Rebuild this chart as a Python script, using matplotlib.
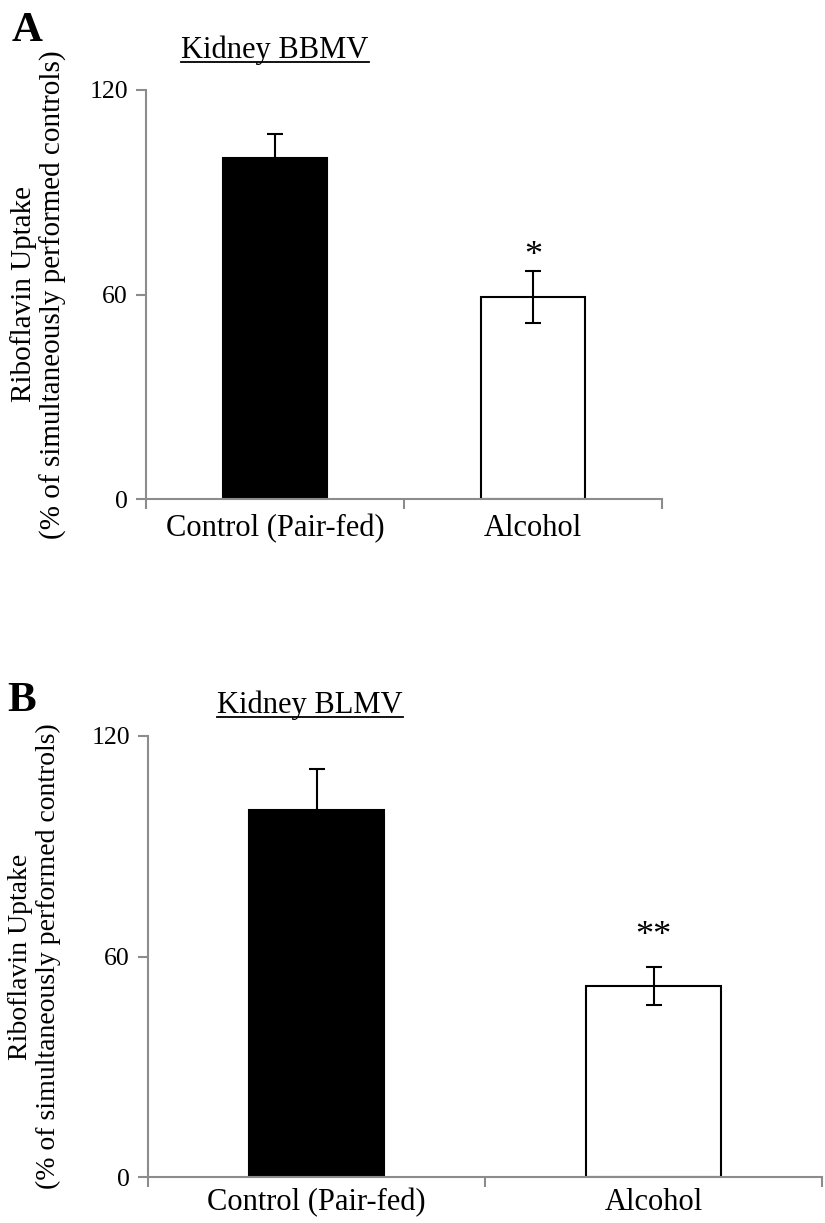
import matplotlib
matplotlib.use("Agg")
import matplotlib.pyplot as plt
from matplotlib.lines import Line2D

plt.rcParams['font.family'] = ['Liberation Serif', 'DejaVu Serif']

# ---- data ----
categories = ["Control (Pair-fed)", "Alcohol"]
bbmv_values = [100.0, 59.3]
bbmv_errors = [7.0, 7.6]
blmv_values = [100.0, 52.0]
blmv_errors = [11.0, 5.2]
yticks = [0, 60, 120]
bbmv_sig = "*"
blmv_sig = "**"

W, H = 825, 1223
fig = plt.figure(figsize=(W / 100, H / 100), dpi=100)


def px_axes(left, right, top, bottom):
    return fig.add_axes([left / W, 1 - bottom / H, (right - left) / W, (bottom - top) / H])


def draw_panel(ax, values, errors, sig, sig_y, label_x, label_fs, xpad):
    x = list(range(len(categories)))
    ax.bar(x, values, width=0.4, color=['black', 'white'], edgecolor='black',
           linewidth=1.5, zorder=2)
    ax.errorbar(x, values, yerr=errors, fmt='none', ecolor='black', elinewidth=1.5,
                capsize=5.5, capthick=1.5, zorder=3)
    ax.text(x[1], sig_y, sig, ha='center', va='bottom', fontsize=26, zorder=4)
    ax.set_xlim(-0.5, len(categories) - 0.5)
    ax.set_ylim(0, 120)
    ax.set_yticks(yticks)
    ax.set_yticklabels([str(t) for t in yticks], fontsize=18.5)
    ax.set_xticks([-0.5, 0.5, 1.5])
    ax.set_xticklabels([])
    ax.set_xticks(x, minor=True)
    ax.set_xticklabels(categories, minor=True, fontsize=22)
    ax.tick_params(axis='x', which='minor', length=0, pad=xpad)
    ax.tick_params(axis='x', which='major', length=7, width=1.5, color='#8c8c8c', direction='out')
    ax.tick_params(axis='y', length=7, width=1.5, color='#8c8c8c', direction='out', pad=6)
    for s in ['top', 'right']:
        ax.spines[s].set_visible(False)
    for s in ['left', 'bottom']:
        ax.spines[s].set_color('#8c8c8c')
        ax.spines[s].set_linewidth(1.5)
    ax.set_ylabel("Riboflavin Uptake\n(% of simultaneously performed controls)",
                  fontsize=label_fs, linespacing=1.15)
    ax.yaxis.set_label_coords(label_x, 0.5)


axA = px_axes(146, 662, 90, 499)
draw_panel(axA, bbmv_values, bbmv_errors, bbmv_sig, 66.3, -0.153, 21, 11)
axB = px_axes(148, 822, 736, 1177)
draw_panel(axB, blmv_values, blmv_errors, blmv_sig, 61.0, -0.129, 20, 8)

# panel letters
fig.text(12 / W, 1 - 41 / H, "A", fontsize=31, fontweight='bold', ha='left', va='baseline')
fig.text(7 / W, 1 - 711 / H, "B", fontsize=31, fontweight='bold', ha='left', va='baseline')

# underlined titles
titles = []
titles.append(fig.text(275 / W, 1 - 58 / H, "Kidney BBMV", fontsize=22, ha='center', va='baseline'))
titles.append(fig.text(310 / W, 1 - 713 / H, "Kidney BLMV", fontsize=22, ha='center', va='baseline'))
fig.canvas.draw()
r = fig.canvas.get_renderer()
for t in titles:
    bb = t.get_window_extent(r)
    xb, yb = t.get_position()
    ypix = yb * H - 4
    fig.add_artist(Line2D([bb.x0 / W, bb.x1 / W], [ypix / H, ypix / H],
                          transform=fig.transFigure, color='black', linewidth=1.3))

fig.savefig("out.png", dpi=100)
